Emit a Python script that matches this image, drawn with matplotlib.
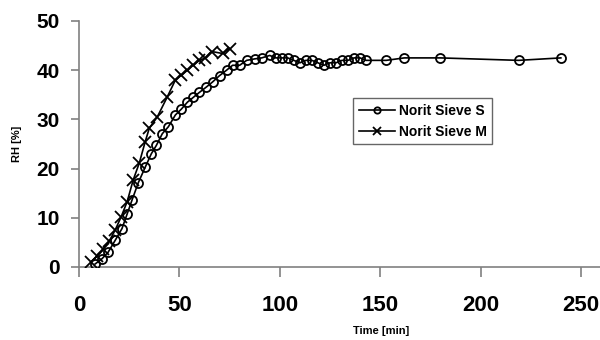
import matplotlib
matplotlib.use("Agg")
import matplotlib.pyplot as plt

plt.rcParams['font.family'] = ['Liberation Sans', 'DejaVu Sans']

# Norit Sieve S: time [min] and relative humidity [%]
time_s = [8, 11.5, 14.5, 18, 21.4, 24, 26.5, 29.5, 33, 36, 38.5, 41.5, 44.5, 48,
          51, 54, 57, 60, 63.5, 66.5, 70, 73.5, 76.5, 80, 83.5, 87.5, 91, 95, 98,
          101, 104, 107, 110, 113, 116, 119, 122, 125, 128, 131, 134, 137, 140,
          143, 153, 162, 180, 219, 240]
rh_s = [0.6, 1.7, 3.0, 5.4, 7.8, 10.8, 13.7, 17.1, 20.3, 23.0, 24.7, 27.1, 28.5,
        30.9, 32.1, 33.5, 34.5, 35.5, 36.6, 37.6, 38.9, 40.0, 41.0, 41.0, 42.0,
        42.3, 42.5, 43.0, 42.5, 42.5, 42.5, 42.0, 41.5, 42.0, 42.0, 41.5, 41.0,
        41.5, 41.5, 42.0, 42.0, 42.5, 42.5, 42.0, 42.0, 42.5, 42.5, 42.0, 42.5]

# Norit Sieve M
time_m = [6, 9, 12, 15, 18, 21, 24, 27, 30, 33, 35, 39, 44, 48, 51, 54, 57, 60,
          63, 66, 71.5, 75]
rh_m = [1.0, 2.2, 3.6, 5.2, 7.5, 10.2, 13.3, 17.7, 21.1, 25.5, 28.2, 30.5, 34.6,
        38.0, 39.0, 40.0, 41.1, 42.0, 42.5, 43.8, 43.4, 44.4]

x_ticks = [0, 50, 100, 150, 200, 250]
y_ticks = [0, 10, 20, 30, 40, 50]

fig = plt.figure(figsize=(6, 3.4), dpi=100)
ax = fig.add_axes([79 / 600, 1 - 267 / 340, 521 / 600, 246 / 340])

ax.plot(time_s, rh_s, color='black', lw=1.2, marker='o', markersize=6.5,
        markerfacecolor='none', markeredgecolor='black', markeredgewidth=1.3,
        label='Norit Sieve S')
ax.plot(time_m, rh_m, color='black', lw=1.2, marker='x', markersize=8,
        markeredgewidth=1.3, label='Norit Sieve M')

ax.set_xlim(0, 259.5)
ax.set_ylim(0, 50)
ax.set_xticks(x_ticks)
ax.set_yticks(y_ticks)

for side in ('top', 'right'):
    ax.spines[side].set_visible(False)
for side in ('left', 'bottom'):
    ax.spines[side].set_color('#808080')
    ax.spines[side].set_linewidth(1.2)
ax.spines['left'].set_zorder(0)
ax.spines['bottom'].set_zorder(0)

ax.tick_params(axis='x', direction='out', length=7, width=1.2, color='#808080',
               labelsize=16, pad=13)
ax.tick_params(axis='y', direction='out', length=6, width=1.2, color='#808080',
               labelsize=15, pad=8)
for lbl in ax.get_xticklabels() + ax.get_yticklabels():
    lbl.set_fontweight('bold')

ax.set_xlabel('Time [min]', fontsize=8, fontweight='bold')
ax.xaxis.set_label_coords((381 - 79) / 521, -(326 - 267) / 246)
ax.set_ylabel('RH [%]', fontsize=8, fontweight='bold')
ax.yaxis.set_label_coords(-(79 - 22) / 521, 0.5)

leg = ax.legend(loc='upper left', bbox_to_anchor=(353 / 600, 1 - 98 / 340),
                bbox_transform=fig.transFigure, frameon=True, fancybox=False,
                prop={'weight': 'bold', 'size': 10}, handlelength=2.6,
                borderpad=0.4, labelspacing=0.5, handletextpad=0.3,
                borderaxespad=0, markerscale=0.7)
leg.get_frame().set_edgecolor('#404040')
leg.get_frame().set_linewidth(1.0)

fig.savefig('out.png', dpi=100)
